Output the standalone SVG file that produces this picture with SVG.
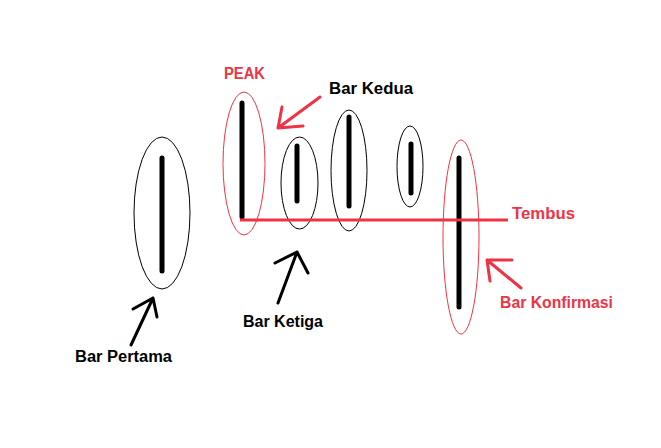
<svg xmlns="http://www.w3.org/2000/svg" width="661" height="448" viewBox="0 0 661 448">
<style>
.bar{stroke:#000;stroke-width:5;stroke-linecap:round}
.eb{fill:none;stroke:#000;stroke-width:1}
.er{fill:none;stroke:#EE3344;stroke-width:1}
.ab{fill:none;stroke:#000;stroke-width:3;stroke-linecap:round;stroke-linejoin:round}
.ar{fill:none;stroke:#EE3344;stroke-width:3;stroke-linecap:round;stroke-linejoin:round}
.t{font-family:"Liberation Sans",Arial,sans-serif;font-weight:bold;font-size:16px}
.tk{fill:#000}
.tr{fill:#EE3344}
</style>
<rect width="661" height="448" fill="#fff"/>
<g id="bar1"><ellipse class="eb" cx="162" cy="213" rx="28" ry="76"/><line class="bar" x1="162" y1="158" x2="162" y2="271"/></g>
<g id="bar-peak"><ellipse class="er" cx="244" cy="163.5" rx="21" ry="71.5"/><line class="bar" x1="242" y1="103" x2="242" y2="217"/></g>
<g id="bar3"><ellipse class="eb" cx="299.5" cy="183" rx="18.5" ry="46"/><line class="bar" x1="297" y1="146" x2="297" y2="201"/></g>
<g id="bar4"><ellipse class="eb" cx="349" cy="170.5" rx="18" ry="60.5"/><line class="bar" x1="349" y1="117" x2="349" y2="206"/></g>
<g id="bar5"><ellipse class="eb" cx="410" cy="166.5" rx="13" ry="40.5"/><line class="bar" x1="411" y1="144" x2="411" y2="193"/></g>
<g id="bar-konfirmasi"><ellipse class="er" cx="461" cy="237" rx="18" ry="97"/><line class="bar" x1="459" y1="158" x2="459" y2="307"/></g>
<g id="connectors">
<line x1="240" y1="220" x2="508" y2="220" stroke="#EE3344" stroke-width="3"/>
<path class="ar" d="M320 97 L278 128 M282 107 L278 128 L303 126"/>
<path class="ar" d="M521 288 L487 260 M512 260 L487 260 L490 281"/>
<path class="ab" d="M131 345 L153 298 M133 309 L153 298 L157 317"/>
<path class="ab" d="M278 303 L297 252 M275 263 L297 252 L308 273"/>
</g>
<g id="labels">
<text class="t tr" x="224" y="79" textLength="41" lengthAdjust="spacingAndGlyphs">PEAK</text>
<text class="t tk" x="329" y="94" textLength="84" lengthAdjust="spacingAndGlyphs">Bar Kedua</text>
<text class="t tr" x="512" y="219" textLength="63" lengthAdjust="spacingAndGlyphs">Tembus</text>
<text class="t tr" x="500" y="308" textLength="113" lengthAdjust="spacingAndGlyphs">Bar Konfirmasi</text>
<text class="t tk" x="75" y="362" textLength="97" lengthAdjust="spacingAndGlyphs">Bar Pertama</text>
<text class="t tk" x="243" y="327" textLength="80" lengthAdjust="spacingAndGlyphs">Bar Ketiga</text>
</g>
</svg>
